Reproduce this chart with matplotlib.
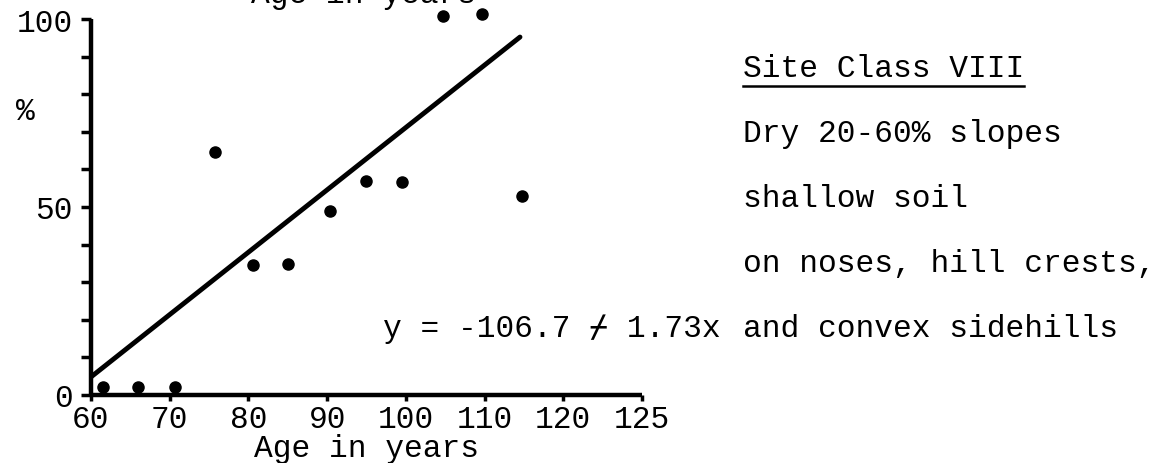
import matplotlib
matplotlib.use("Agg")
import matplotlib.pyplot as plt
from matplotlib.lines import Line2D

# ---- data ----
age = [61.5, 66.0, 70.7, 75.8, 80.6, 85.0, 90.4, 95.0, 99.5, 104.7, 109.7, 114.8]
pct = [2.0, 2.0, 2.0, 64.6, 34.5, 34.8, 48.9, 57.0, 56.7, 100.8, 101.3, 53.0]
fit_x = [60.0, 114.5]
fit_y = [4.8, 95.2]
xtick_pos = [60, 70, 80, 90, 100, 110, 120, 130]
xtick_labels = ["60", "70", "80", "90", "100", "110", "120", "125"]
ytick_major = [0, 50, 100]
ytick_minor = [10, 20, 30, 40, 60, 70, 80, 90]
equation = "y = -106.7 \u233f 1.73x"
notes = ["Site Class VIII", "Dry 20-60% slopes", "shallow soil",
         "on noses, hill crests,", "and convex sidehills"]

W, H = 1173, 464
FONT = ["Liberation Mono", "DejaVu Sans Mono"]
FS = 22.5
plt.rcParams["font.family"] = FONT

def fx(px):
    return px / W

def fy(py):
    return 1 - py / H

fig = plt.figure(figsize=(W / 100, H / 100), dpi=100)
ax = fig.add_axes([fx(91), fy(396), (642 - 91) / W, (396 - 20) / H])

ax.plot(fit_x, fit_y, color="black", lw=3.5, solid_capstyle="round")
ax.plot(age, pct, "o", color="black", ms=8, clip_on=False)

ax.set_xlim(60, 130)
ax.set_ylim(0, 100)
ax.set_xticks(xtick_pos)
ax.set_xticklabels(xtick_labels)
ax.set_yticks(ytick_major)
ax.set_yticks(ytick_minor, minor=True)
ax.set_yticklabels([str(v) for v in ytick_major])

for s in ["top", "right"]:
    ax.spines[s].set_visible(False)
for s in ["left", "bottom"]:
    ax.spines[s].set_linewidth(3.2)
    ax.spines[s].set_capstyle("butt")

ax.tick_params(axis="y", which="both", direction="out", length=7.5, width=2.5,
               pad=5.5, labelsize=FS)
ax.tick_params(axis="x", which="both", direction="out", length=4, width=2.5,
               pad=2.5, labelsize=FS)
for lab in ax.get_xticklabels() + ax.get_yticklabels():
    lab.set_family(FONT)

ax.set_xlabel("Age in years", fontsize=FS, family=FONT)
ax.xaxis.set_label_coords(0.5, -(457 - 396) / 376)
ax.xaxis.label.set_va("baseline")
ax.set_ylabel("%", fontsize=FS, rotation=0, family=FONT)
ax.yaxis.set_label_coords((25 - 91) / 551, (396 - 112) / 376)
ax.yaxis.label.set_va("center")
ax.yaxis.label.set_ha("center")

# heading at the very top of the scan, mostly cut off by the page edge
fig.text(fx(364), fy(3), "Age in years", fontsize=FS, ha="center",
         va="baseline", family=FONT)

# equation
fig.text(fx(383), fy(337), equation, fontsize=FS, ha="left", va="baseline",
         family=FONT)

# notes on the right
baselines = [77, 142, 207, 272, 337]
texts = []
for t, b in zip(notes, baselines):
    texts.append(fig.text(fx(743), fy(b), t, fontsize=FS, ha="left",
                          va="baseline", family=FONT))

fig.canvas.draw()
bb = texts[0].get_window_extent()
fig.add_artist(Line2D([bb.x0 / W, bb.x1 / W], [fy(87), fy(87)],
                      color="black", lw=1.8, transform=fig.transFigure))

fig.savefig("out.png", dpi=100, facecolor="white")
